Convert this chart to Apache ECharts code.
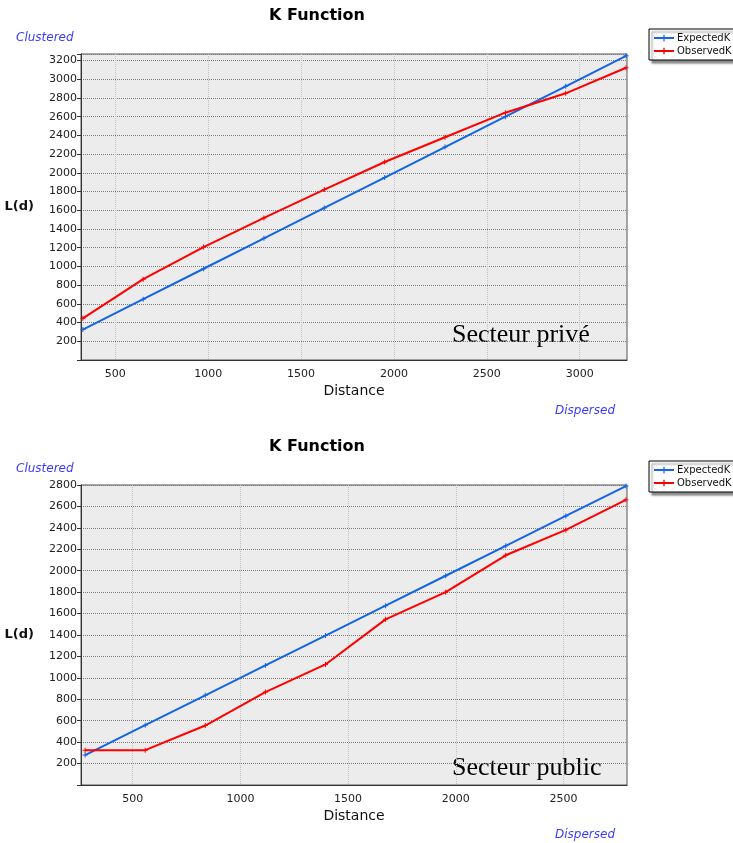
<!DOCTYPE html>
<html>
<head>
<meta charset="utf-8">
<script src="https://cdn.jsdelivr.net/npm/echarts@6/dist/echarts.min.js"></script>
<style>
  html, body { margin: 0; padding: 0; background: #fff; }
</style>
</head>
<body>
<div id="mycharts" style="width: 733px; height: 843px"></div>
<script>
// secteur privé (top)
const privDistance = [325, 650, 975, 1300, 1625, 1950, 2275, 2600, 2925, 3250];
const privExpected = [325, 650, 975, 1300, 1625, 1950, 2275, 2600, 2925, 3250];
const privObserved = [445, 864, 1207, 1518, 1821, 2116, 2380, 2643, 2850, 3123];

// secteur public (bottom)
const pubDistance = [279, 558, 837, 1116, 1395, 1674, 1953, 2232, 2511, 2790];
const pubExpected = [279, 558, 837, 1116, 1395, 1674, 1953, 2232, 2511, 2790];
const pubObserved = [325, 325, 555, 867, 1125, 1546, 1800, 2144, 2381, 2662];

const privTicks = [500, 1000, 1500, 2000, 2500, 3000];
const pubTicks = [500, 1000, 1500, 2000, 2500];

const colors = ["#1464e6", "#ff0000"];
const font = "DejaVu Sans";
const plus = "path://M4,0h2v4h4v2h-4v4h-2v-4h-4v-2h4z";

var chartDom = document.getElementById("mycharts");
var myChart = echarts.init(chartDom);

const pairs = (xs, ys) => xs.map((x, i) => [x, ys[i]]);

const xAxisOf = (gi, min, max, ticks) => ({
  type: "value",
  gridIndex: gi,
  min: min,
  max: max,
  name: "Distance",
  nameLocation: "middle",
  nameGap: 24,
  nameTextStyle: { fontFamily: font, fontSize: 14, color: "#111" },
  axisLine: { show: true, lineStyle: { color: "#333" } },
  axisTick: { show: false, customValues: ticks },
  axisLabel: {
    customValues: ticks, fontFamily: font, fontSize: 11, color: "#222", margin: 9,
    formatter: (v) => String(v),
  },
  splitLine: { show: true, lineStyle: { color: "#c4c4c4", type: "dotted" } },
});

const yAxisOf = (gi, max) => ({
  type: "value",
  gridIndex: gi,
  min: 0,
  max: max,
  interval: 200,
  name: "L(d)",
  nameLocation: "middle",
  nameRotate: 0,
  nameGap: 47,
  nameTextStyle: { fontFamily: font, fontSize: 13, fontWeight: "bold", color: "#111" },
  axisLine: { show: true, lineStyle: { color: "#333" } },
  axisTick: { show: true, length: 4, lineStyle: { color: "#333" } },
  axisLabel: {
    fontFamily: font, fontSize: 11, color: "#222", margin: 4,
    formatter: (v) => (v > 0 && v % 200 === 0 ? String(v) : ""),
  },
  splitLine: { show: true, lineStyle: { color: "#7a7a7a", type: "dotted" } },
});

const lineSeries = (name, gi, data, color) => ({
  name: name,
  type: "line",
  xAxisIndex: gi,
  yAxisIndex: gi,
  data: data,
  symbol: plus,
  symbolSize: 5,
  showSymbol: true,
  lineStyle: { color: color, width: 2 },
  itemStyle: { color: color },
});

const legendOf = (top) => ({
  orient: "vertical",
  left: 649,
  top: top,
  data: ["ExpectedK", "ObservedK"],
  itemWidth: 20,
  itemHeight: 8,
  itemGap: 3,
  padding: [4, 6, 4, 4],
  backgroundColor: "#fff",
  borderColor: "#000",
  borderWidth: 1,
  shadowColor: "rgba(0,0,0,0.45)",
  shadowOffsetX: 3,
  shadowOffsetY: 3,
  shadowBlur: 2,
  textStyle: { fontFamily: font, fontSize: 10, color: "#111", padding: [0, 0, 0, -2] },
});

const text = (x, y, str, style) => ({
  type: "text",
  x: x,
  y: y,
  style: Object.assign({ text: str, fill: "#000", textVerticalAlign: "middle" }, style),
});

option = {
  animation: false,
  color: colors,
  grid: [
    { left: 81, top: 54, width: 546, height: 306, show: true, backgroundColor: "#ececec", borderColor: "#555", borderWidth: 1 },
    { left: 81, top: 485, width: 546, height: 300, show: true, backgroundColor: "#ececec", borderColor: "#555", borderWidth: 1 },
  ],
  legend: [legendOf(29), legendOf(461)],
  xAxis: [xAxisOf(0, 315, 3255, privTicks), xAxisOf(1, 260, 2795, pubTicks)],
  yAxis: [yAxisOf(0, 3270), yAxisOf(1, 2800)],
  series: [
    lineSeries("ExpectedK", 0, pairs(privDistance, privExpected), colors[0]),
    lineSeries("ObservedK", 0, pairs(privDistance, privObserved), colors[1]),
    lineSeries("ExpectedK", 1, pairs(pubDistance, pubExpected), colors[0]),
    lineSeries("ObservedK", 1, pairs(pubDistance, pubObserved), colors[1]),
  ],
  graphic: [
    text(317, 16, "K Function", { font: "bold 16px " + font, textAlign: "center" }),
    text(16, 38, "Clustered", { font: "italic 12px " + font, fill: "#3a3aff" }),
    text(555, 411, "Dispersed", { font: "italic 12px " + font, fill: "#3a3aff" }),
    text(452, 335, "Secteur privé", { font: "26px 'Liberation Serif'" }),
    text(317, 447, "K Function", { font: "bold 16px " + font, textAlign: "center" }),
    text(16, 469, "Clustered", { font: "italic 12px " + font, fill: "#3a3aff" }),
    text(555, 835, "Dispersed", { font: "italic 12px " + font, fill: "#3a3aff" }),
    text(452, 768, "Secteur public", { font: "26px 'Liberation Serif'" }),
  ],
};

option && myChart.setOption(option);
</script>
</body>
</html>
